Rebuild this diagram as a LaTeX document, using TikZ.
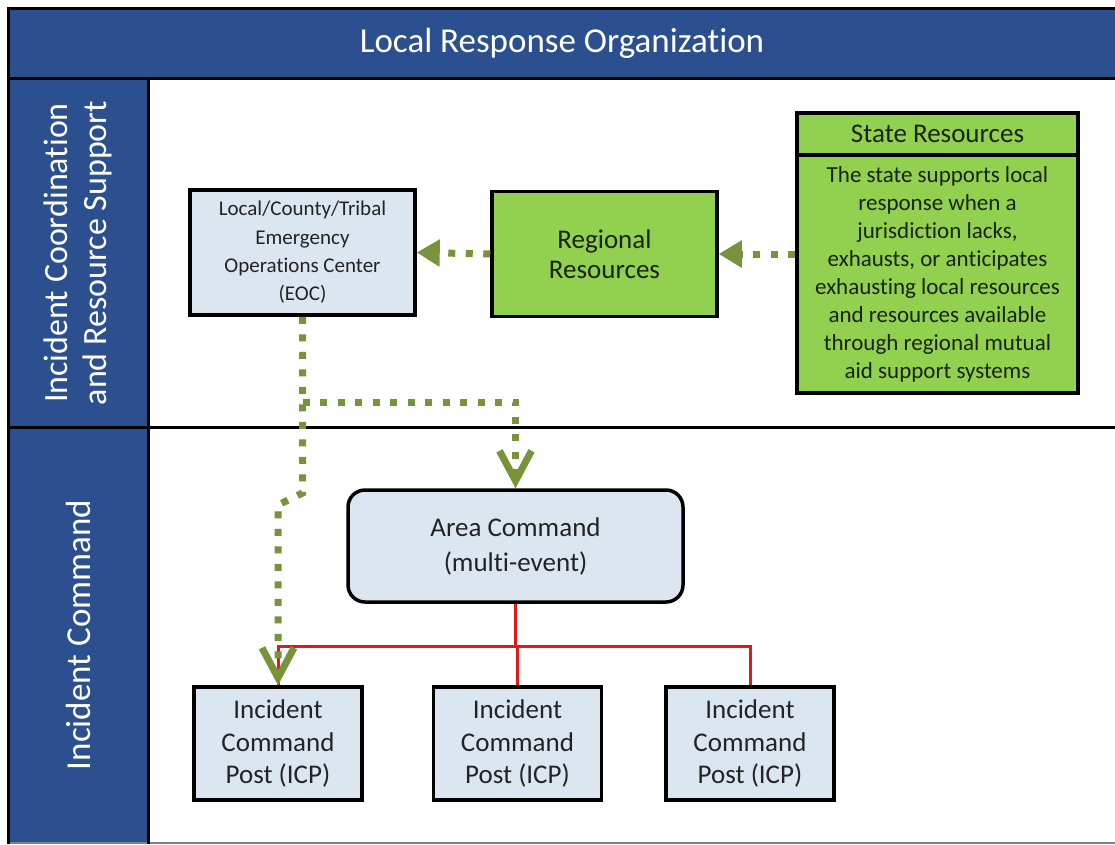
\documentclass[tikz,border=0pt]{standalone}
\usepackage{fontspec}
\setmainfont{Carlito}[Ligatures=NoCommon]
\usetikzlibrary{arrows.meta,calc}
\definecolor{bandblue}{RGB}{43,79,143}
\definecolor{boxgray}{RGB}{220,230,241}
\definecolor{resgreen}{RGB}{146,208,80}
\definecolor{olive}{RGB}{119,147,60}
\definecolor{linkred}{RGB}{225,25,25}
\definecolor{ink}{RGB}{35,35,35}
\definecolor{greenink}{RGB}{25,35,15}
\tikzset{
  framebox/.style={line width=3.5pt, draw=black, inner sep=0pt, align=center},
  graybox/.style={framebox, fill=boxgray, text=ink},
  greenbox/.style={framebox, fill=resgreen, text=greenink},
  bandtext/.style={text=white, inner sep=0pt, align=center},
  dotlink/.style={draw=olive, line width=7pt, dash pattern=on 7pt off 10.5pt},
  lefttip/.style={-{Triangle[length=23pt,width=26pt]}},
  downtip/.style={-{Straight Barb[length=30pt,width=32pt,line width=7pt]}},
  redlink/.style={draw=linkred, line width=3pt},
}
\begin{document}
\begin{tikzpicture}[x=1pt,y=-1pt]
\useasboundingbox (0,0) rectangle (1115,844);
\fill[white] (0,0) rectangle (1115,844);

% title band and side column
\fill[bandblue] (8,8) rectangle (1115,78);
\fill[bandblue] (8,78) rectangle (148,844);
\draw[gray, line width=2pt] (8,842.5) -- (1115,842.5);
\draw[line width=3pt] (1115,8) -- (8,8) -- (8,844);
\draw[line width=3pt] (8,78) -- (1115,78);
\draw[line width=3pt] (148,78) -- (148,844);
\draw[line width=3pt] (8,427) -- (1115,427);

\node[bandtext, font=\fontsize{35}{40}\selectfont] (title) at (562,43) {Local Response Organization};
\node[bandtext, rotate=90, font=\fontsize{34}{39}\selectfont] (rowA) at (78,253)
  {Incident Coordination\\and Resource Support};
\node[bandtext, rotate=90, font=\fontsize{35}{40}\selectfont] (rowB) at (78,635) {Incident Command};

% coordination row
\node[graybox, minimum width=225pt, minimum height=125pt, font=\fontsize{21}{28.3}\selectfont]
  (eoc) at (302.5,252.5) {Local/County/Tribal\\Emergency\\Operations Center\\(EOC)};
\node[greenbox, minimum width=225pt, minimum height=125pt, font=\fontsize{27}{30}\selectfont]
  (regional) at (604.5,254) {Regional\\Resources};
\node[greenbox, minimum width=281pt, minimum height=238pt, font=\fontsize{23}{28}\selectfont]
  (statebody) at (937.5,274) {The state supports local\\response when a\\jurisdiction lacks,\\exhausts, or anticipates\\exhausting local resources\\and resources available\\through regional mutual\\aid support systems};
\node[greenbox, minimum width=281pt, minimum height=42pt, font=\fontsize{27}{30}\selectfont]
  (statehd) at (937.5,134) {State Resources};

% command row
\node[graybox, rounded corners=17pt, minimum width=335pt, minimum height=112pt, font=\fontsize{27}{35}\selectfont]
  (area) at (515.5,546) {Area Command\\(multi-event)};
\node[graybox, minimum width=168pt, minimum height=113pt, font=\fontsize{27}{32.5}\selectfont]
  (icp1) at (278,743.5) {Incident\\Command\\Post (ICP)};
\node[graybox, minimum width=168pt, minimum height=113pt, font=\fontsize{27}{32.5}\selectfont]
  (icp2) at (517.5,743.5) {Incident\\Command\\Post (ICP)};
\node[graybox, minimum width=168pt, minimum height=113pt, font=\fontsize{27}{32.5}\selectfont]
  (icp3) at (750,743.5) {Incident\\Command\\Post (ICP)};

% command lines
\coordinate (rj) at ($(area.south)+(0,43)$);
\draw[redlink] (area.south) -- (rj);
\draw[redlink] (icp1.north) |- (rj) -| (icp3.north);
\draw[redlink] (rj) -| (icp2.north);

% resource support flows
\draw[dotlink, lefttip] (statebody.west |- regional.east) -- (regional.east);
\draw[dotlink, lefttip] (regional.west) -- (eoc.east);
\coordinate (bend1) at (302.5,493);
\coordinate (bend2) at (278,505);
\coordinate (split) at (302.5,402);
\draw[dotlink, downtip] (eoc.south) -- (bend1) -- (bend2) -- (icp1.north);
\draw[dotlink, downtip] (split) -| (area.north);
\end{tikzpicture}
\end{document}
